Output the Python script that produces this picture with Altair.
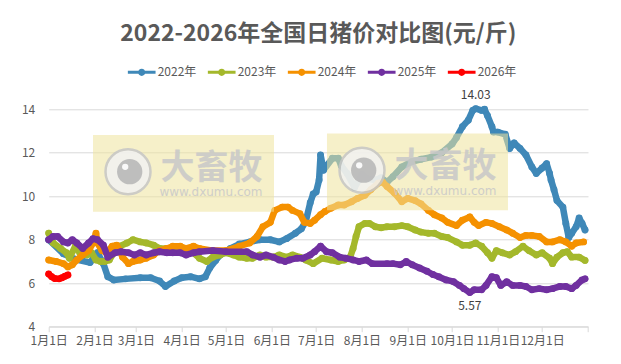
import altair as alt
import pandas as pd

FONT = "Noto Sans CJK SC"
TITLE = "2022-2026年全国日猪价对比图(元/斤)"
years = ["2022年", "2023年", "2024年", "2025年", "2026年"]
colors = ["#3f88b8", "#a4b82b", "#f59100", "#7030a0", "#ff0000"]

# x axis: month starts as day-of-year offsets (0 = 1月1日)
tick_days = [0, 31, 59, 90, 120, 151, 181, 212, 243, 273, 304, 334, 365]
tick_labels = ["1月1日", "2月1日", "3月1日", "4月1日", "5月1日", "6月1日", "7月1日",
               "8月1日", "9月1日", "10月1日", "11月1日", "12月1日", ""]
y_ticks = [4, 6, 8, 10, 12, 14]

days_2022 = [0, 10, 18, 28, 33, 37, 40, 44, 52, 62, 69, 75, 79, 85, 90, 96, 102, 106, 109, 113,
             116, 123, 129, 136, 143, 150, 156, 161, 167, 171, 174, 177, 179, 181, 183, 184, 186,
             192, 196, 198, 202, 207, 212, 216, 221, 225, 229, 233, 239, 246, 252, 259, 266, 273,
             276, 280, 284, 287, 289, 293, 295, 297, 300, 301, 304, 309, 312, 315, 319, 323, 327,
             330, 334, 337, 339, 340, 342, 344, 348, 350, 352, 354, 357, 359, 361, 363]
price_2022 = [8.0, 7.35, 7.1, 6.95, 7.4, 6.9, 6.3, 6.15, 6.2, 6.25, 6.25, 6.1, 5.85, 6.1, 6.25, 6.3,
              6.2, 6.3, 6.7, 7.05, 7.3, 7.6, 7.8, 7.9, 8.0, 8.0, 7.9, 8.05, 8.3, 8.5, 8.85, 9.7, 10.1,
              10.2, 10.75, 11.9, 11.2, 11.75, 11.75, 11.4, 11.05, 10.4, 11.0, 10.8, 10.75, 10.85,
              10.65, 10.9, 11.35, 11.6, 11.7, 11.8, 12.0, 12.4, 12.7, 13.2, 13.5, 13.95, 14.03, 13.95,
              14.0, 13.7, 13.2, 12.95, 12.95, 12.85, 12.2, 12.45, 12.2, 11.9, 11.35, 11.05, 11.3,
              11.5, 11.05, 10.75, 10.3, 9.8, 9.5, 8.75, 8.1, 8.3, 8.6, 9.0, 8.75, 8.45]

days_2023 = [0, 3, 8, 12, 14, 18, 21, 26, 29, 32, 35, 38, 41, 45, 48, 53, 57, 62, 66, 71, 75, 80,
             84, 89, 93, 98, 102, 107, 111, 116, 120, 125, 129, 134, 138, 143, 147, 152, 156, 161,
             165, 170, 174, 179, 185, 191, 196, 200, 204, 206, 208, 210, 214, 217, 221, 225, 229,
             234, 239, 243, 248, 252, 257, 261, 266, 270, 276, 280, 285, 289, 293, 297, 300, 303,
             307, 312, 316, 321, 325, 330, 334, 339, 341, 344, 348, 351, 354, 359, 363]
price_2023 = [8.3, 7.85, 7.6, 7.4, 7.15, 7.7, 7.4, 7.3, 7.4, 7.07, 7.0, 7.0, 7.07, 7.5, 7.7, 7.85,
              8.0, 7.9, 7.85, 7.75, 7.6, 7.6, 7.5, 7.5, 7.5, 7.4, 7.15, 7.0, 7.2, 7.3, 7.4, 7.3, 7.2,
              7.15, 7.15, 7.3, 7.2, 7.2, 7.3, 7.2, 7.3, 7.2, 7.07, 6.9, 7.15, 7.07, 7.0, 7.07, 7.2,
              7.6, 8.15, 8.6, 8.75, 8.75, 8.6, 8.55, 8.6, 8.6, 8.65, 8.6, 8.45, 8.35, 8.3, 8.3, 8.15,
              8.1, 7.9, 7.75, 7.75, 7.85, 7.7, 7.4, 7.15, 7.5, 7.4, 7.3, 7.45, 7.7, 7.5, 7.3, 7.4,
              7.15, 6.9, 7.2, 7.4, 7.45, 7.2, 7.2, 7.05]

days_2024 = [0, 5, 10, 13, 16, 19, 23, 27, 30, 32, 33, 36, 39, 43, 46, 48, 50, 54, 57, 62, 66, 71,
             75, 80, 84, 89, 93, 98, 102, 111, 120, 129, 136, 141, 145, 150, 153, 158, 162, 165, 170,
             173, 177, 180, 184, 187, 191, 196, 200, 205, 209, 214, 218, 223, 226, 229, 234, 239,
             243, 248, 252, 257, 261, 266, 270, 276, 280, 285, 288, 291, 296, 300, 305, 310, 314,
             319, 323, 327, 332, 337, 341, 346, 350, 354, 357, 362]
price_2024 = [7.07, 7.0, 6.9, 6.75, 6.85, 7.07, 7.3, 7.5, 7.85, 8.3, 7.85, 7.5, 7.4, 7.7, 7.75, 7.5,
              7.2, 6.9, 7.0, 7.07, 7.15, 7.3, 7.5, 7.6, 7.7, 7.7, 7.6, 7.7, 7.6, 7.5, 7.5, 7.7, 7.85,
              8.15, 8.6, 8.8, 9.35, 9.5, 9.5, 9.35, 9.2, 8.8, 8.75, 8.9, 9.15, 9.3, 9.45, 9.6, 9.6,
              9.75, 9.9, 10.05, 10.3, 10.6, 10.65, 10.45, 10.15, 9.75, 9.9, 9.8, 9.65, 9.35, 9.15,
              9.0, 8.8, 8.65, 8.9, 9.05, 8.8, 8.65, 8.8, 8.75, 8.6, 8.45, 8.3, 8.1, 8.2, 8.2, 8.15,
              7.9, 7.9, 8.0, 7.9, 7.7, 7.85, 7.9]

days_2025 = [0, 3, 6, 10, 13, 16, 19, 23, 27, 30, 33, 37, 40, 45, 49, 54, 58, 62, 66, 71, 75, 80,
             84, 89, 93, 98, 102, 111, 120, 134, 138, 143, 147, 152, 156, 160, 163, 168, 172, 177,
             180, 184, 188, 192, 197, 201, 206, 210, 215, 219, 229, 233, 238, 242, 246, 251, 256,
             260, 264, 269, 274, 278, 281, 285, 288, 293, 296, 300, 303, 306, 310, 314, 319, 323,
             327, 332, 337, 341, 346, 350, 354, 357, 361, 363]
price_2025 = [8.0, 8.15, 8.15, 7.9, 7.85, 8.0, 7.85, 7.6, 7.85, 8.05, 8.0, 7.75, 7.2, 7.4, 7.45,
              7.4, 7.3, 7.4, 7.3, 7.4, 7.45, 7.4, 7.4, 7.4, 7.3, 7.4, 7.45, 7.5, 7.45, 7.45, 7.3,
              7.2, 7.3, 7.2, 7.07, 7.0, 7.07, 7.15, 7.15, 7.3, 7.45, 7.7, 7.45, 7.4, 7.2, 7.15, 7.07,
              7.0, 7.07, 6.9, 6.9, 6.9, 6.85, 7.0, 6.85, 6.7, 6.55, 6.4, 6.3, 6.15, 6.07, 5.9, 5.75,
              5.57, 5.7, 5.7, 5.9, 6.3, 6.25, 5.9, 6.07, 5.9, 5.9, 5.85, 5.7, 5.75, 5.7, 5.75, 5.85,
              5.85, 5.75, 5.9, 6.15, 6.2]

days_2026 = [0, 2, 4, 7, 9, 11, 13]
price_2026 = [6.42, 6.3, 6.22, 6.2, 6.25, 6.32, 6.38]

peak_label = {"day": 289, "price": 14.03, "text": "14.03"}
low_label = {"day": 285, "price": 5.57, "text": "5.57"}

series = [days_2022, days_2023, days_2024, days_2025, days_2026]
prices = [price_2022, price_2023, price_2024, price_2025, price_2026]
rows = []
for yr, ds, ps in zip(years, series, prices):
    for d, p in zip(ds, ps):
        rows.append({"year": yr, "day": d, "price": p})
df = pd.DataFrame(rows)

label_expr = "[" + ",".join("'%s'" % t for t in tick_labels) + "][indexof([" + \
    ",".join(str(t) for t in tick_days) + "], datum.value)]"

x_enc = alt.X("day:Q", scale=alt.Scale(domain=[0, 365], nice=False, zero=False),
              axis=alt.Axis(values=tick_days, labelExpr=label_expr, title=None, grid=False,
                            tickColor="#d9d9d9", tickSize=5, domainColor="#d9d9d9",
                            labelColor="#595959", labelFontSize=12, labelFont=FONT,
                            labelOverlap=False, labelPadding=4, labelFlush=False))
y_enc = alt.Y("price:Q", scale=alt.Scale(domain=[4, 14], nice=False, zero=False),
              axis=alt.Axis(values=y_ticks, title=None, domain=False, ticks=False,
                            gridColor="#d9d9d9", labelColor="#595959", labelFontSize=12,
                            labelFont=FONT, labelPadding=14))

# stroke scale lists the same mapping in reverse order so its (hidden) legend
# is not merged with the visible fill legend
stroke_scale = alt.Scale(domain=years[::-1], range=colors[::-1])
fill_scale = alt.Scale(domain=years, range=colors)
legend_path = ("M-1.6,-0.17 L1.6,-0.17 L1.6,0.17 L-1.6,0.17 Z "
               "M-0.42,0 A0.42,0.42 0 1,1 0.42,0 A0.42,0.42 0 1,1 -0.42,0 Z")
legend = alt.Legend(title=None, orient="none", direction="horizontal",
                    columns=5, legendX=84, legendY=-46, padding=0,
                    symbolType=legend_path, symbolSize=300,
                    symbolStrokeWidth=0, labelOffset=7,
                    columnPadding=11, labelFontSize=12,
                    labelColor="#595959", labelFont=FONT)

layers = []
for yr in years:
    base = alt.Chart(df).transform_filter(alt.datum.year == yr)
    layers.append(base.mark_line(strokeWidth=6.5, strokeJoin="round", strokeCap="round").encode(
        x=x_enc, y=y_enc,
        stroke=alt.Stroke("year:N", scale=stroke_scale, legend=None)))
    layers.append(base.mark_point(filled=True, size=48, opacity=1).encode(
        x=x_enc, y=y_enc,
        fill=alt.Fill("year:N", scale=fill_scale, legend=legend)))

ann = pd.DataFrame([peak_label, low_label])
layers.append(alt.Chart(ann).transform_filter(alt.datum.text == "14.03").mark_text(
    baseline="bottom", dy=-7, fontSize=12, color="#404040", font=FONT).encode(
    x=alt.X("day:Q"), y=alt.Y("price:Q"), text="text:N"))
layers.append(alt.Chart(ann).transform_filter(alt.datum.text == "5.57").mark_text(
    baseline="top", dy=8, fontSize=12, color="#404040", font=FONT).encode(
    x=alt.X("day:Q"), y=alt.Y("price:Q"), text="text:N"))

# watermark decoration (two copies of the 大畜牧 logo box)
wm = alt.Chart(pd.DataFrame({"k": [0]}))
for dx, dy in [(0, 0), (234, -1.5)]:
    layers.append(wm.mark_rect(color="#efe39c", opacity=0.55).encode(
        x=alt.value(44.3 + dx), x2=alt.value(225.3 + dx),
        y=alt.value(25.7 + dy), y2=alt.value(102.4 + dy)))
    layers.append(wm.mark_point(shape="circle", filled=True, size=2025, fill="#f2f2f2",
                                stroke="#c6c6c6", strokeWidth=2.5, opacity=0.85).encode(
        x=alt.value(79.3 + dx), y=alt.value(62.4 + dy)))
    layers.append(wm.mark_point(shape="circle", filled=True, size=640, color="#b8b8b8",
                                opacity=0.9).encode(
        x=alt.value(81 + dx), y=alt.value(62.4 + dy)))
    layers.append(wm.mark_point(shape="circle", filled=True, size=40, color="#ffffff",
                                opacity=0.9).encode(
        x=alt.value(76.5 + dx), y=alt.value(57.5 + dy)))
    layers.append(wm.mark_text(text="大畜牧", fontSize=34, fontWeight="bold", color="#c8c8c8",
                               font=FONT, opacity=0.85, baseline="middle").encode(
        x=alt.value(162.8 + dx), y=alt.value(59.5 + dy)))
    layers.append(wm.mark_text(text="www.dxumu.com", fontSize=12, color="#c8c8c8",
                               font="DejaVu Sans", opacity=0.85, baseline="middle").encode(
        x=alt.value(162.3 + dx), y=alt.value(83.2 + dy)))

chart = alt.layer(*layers).properties(
    width=539.3, height=217.4,
    title=alt.TitleParams(TITLE, fontSize=23, fontWeight="bold", color="#595959", font=FONT,
                          anchor="middle", frame="group", offset=17),
    autosize=alt.AutoSizeParams(type="none"),
    padding={"left": 40.7, "top": 101.3, "right": 25, "bottom": 30},
).configure_view(stroke=None)

chart.save("out.html", embed_options={"renderer": "svg", "actions": False})
